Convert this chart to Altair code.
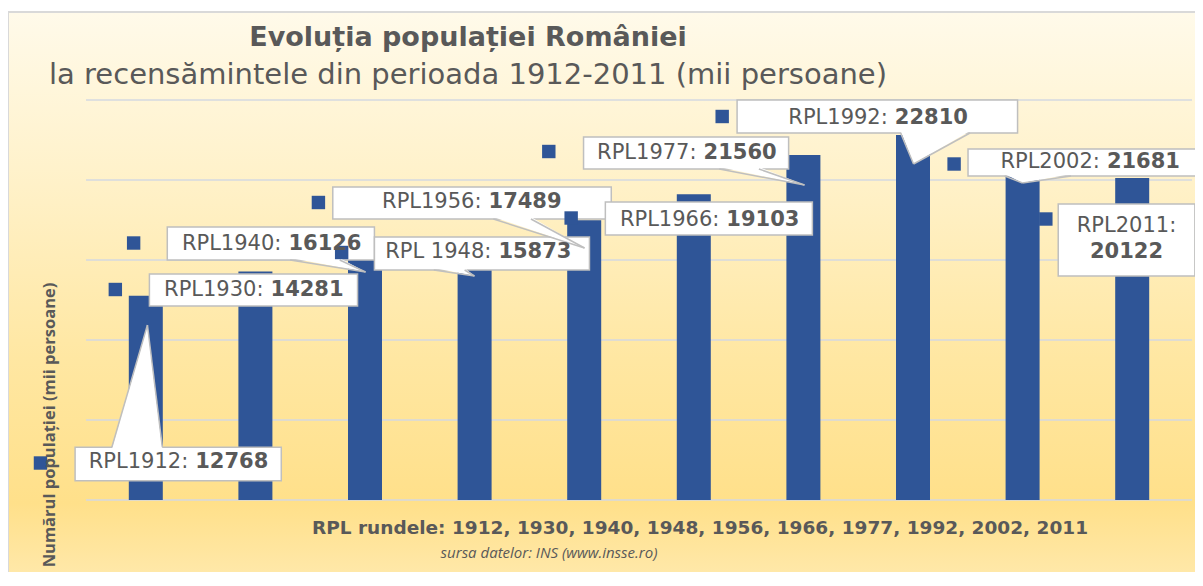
import altair as alt
import pandas as pd

# ---------------- data ----------------
years = ["1912", "1930", "1940", "1948", "1956", "1966", "1977", "1992", "2002", "2011"]
population = [12768, 14281, 16126, 15873, 17489, 19103, 21560, 22810, 21681, 20122]
label_prefix = ["RPL1912:", "RPL1930:", "RPL1940:", "RPL 1948:", "RPL1956:",
                "RPL1966:", "RPL1977:", "RPL1992:", "RPL2002:", "RPL2011:"]
grid_values = [0, 5000, 10000, 15000, 20000, 25000]

# ---------------- callout layout (x: category index units, y: thousand persons) ----------------
box_left = [-0.645, 0.033, 0.196, 2.086, 1.706, 4.193, 3.994, 5.395, 7.502, 8.325]
box_right = [1.236, 1.932, 2.086, 4.048, 4.247, 6.082, 5.865, 7.954, 9.75, 9.572]
box_top = [3300, 14125, 17062, 16437, 19562, 18625, 22687, 25000, 21937, 18500]
box_bottom = [1200, 12125, 15000, 14375, 17562, 16562, 20687, 22937, 20250, 14000]
text_x = [0.296, 0.983, 1.146, 3.062, 2.972, 5.142, 4.934, 6.679, 8.614, 8.948]
text_y = [2344, 13125, 16000, 15469, 18594, 17531, 21687, 23875, 21094, 17156]
value_y = [2344, 13125, 16000, 15469, 18594, 17531, 21687, 23875, 21094, 15469]
stacked = [0, 0, 0, 0, 0, 0, 0, 0, 0, 1]
key_x = [-0.961, -0.278, -0.111, 1.787, 1.575, 3.881, 3.677, 5.259, 7.375, 8.212]
key_y = [2312, 13156, 16062, 15469, 18594, 17625, 21781, 23969, 21000, 17562]
# tails: base edge ("top"/"bottom" of box), base left/right, apex x/y
tail_edge = ["top", None, "bottom", "bottom", "bottom", None, "bottom", "bottom", "bottom", None]
tail_a1 = [-0.310, None, 1.317, 2.628, 3.171, None, 5.232, 6.887, 7.836, None]
tail_a2 = [0.151, None, 1.769, 2.909, 3.514, None, 5.594, 7.520, 8.442, None]
tail_px = [0.015, None, 2.005, 2.999, 4.003, None, 6.010, 7.005, 7.999, None]
tail_py = [10937, None, 14250, 14000, 15750, None, 19687, 21000, 19812, None]

TEXT = "#595959"
BLUE = "#2F5597"
BORDER = "#BFBFBF"

df = pd.DataFrame({
    "year": years, "idx": list(range(len(years))), "population": population,
    "prefix": label_prefix, "value": [str(v) for v in population],
    "bx0": box_left, "bx1": box_right, "by0": box_top, "by1": box_bottom,
    "tx": text_x, "ty": text_y, "vy": value_y, "stacked": stacked,
    "kx": key_x, "ky": key_y,
})

tail_rows, side_rows = [], []
for i in range(len(years)):
    if tail_edge[i] is None:
        continue
    base = box_top[i] if tail_edge[i] == "top" else box_bottom[i]
    inset = -120 if tail_edge[i] == "top" else 120
    tail_rows.append({"id": i, "y": base + inset, "x1": tail_a1[i], "x2": tail_a2[i]})
    tail_rows.append({"id": i, "y": tail_py[i], "x1": tail_px[i], "x2": tail_px[i]})
    side_rows.append({"sx": tail_a1[i], "sy": base, "ex": tail_px[i], "ey": tail_py[i]})
    side_rows.append({"sx": tail_a2[i], "sy": base, "ex": tail_px[i], "ey": tail_py[i]})
tails = pd.DataFrame(tail_rows)
sides = pd.DataFrame(side_rows)

XS = alt.Scale(domain=[-0.5, 9.5], nice=False, zero=False)
YS = alt.Scale(domain=[0, 25000], nice=False)


def xq(f):
    return alt.X(f"{f}:Q", scale=XS, axis=None)


def yq(f):
    return alt.Y(f"{f}:Q", scale=YS, axis=None)


one = pd.DataFrame({"t": [""]})

grad = alt.Gradient(
    gradient="linear", x1=0, x2=0, y1=0, y2=1,
    stops=[
        alt.GradientStop(color="#FFFAEA", offset=0),
        alt.GradientStop(color="#FFF1C8", offset=0.3),
        alt.GradientStop(color="#FFE7A2", offset=0.6),
        alt.GradientStop(color="#FFE08A", offset=0.85),
        alt.GradientStop(color="#FFEAB0", offset=1),
    ],
)

bg = alt.Chart(one).mark_rect(fill=grad, stroke="#D9D9D9", strokeWidth=2).encode(
    x=alt.value(-78), x2=alt.value(1130), y=alt.value(-88), y2=alt.value(490)
)

grid = alt.Chart(pd.DataFrame({"g": grid_values})).mark_rule(
    color="#D5D9E0", strokeWidth=1.5
).encode(y=yq("g"), x=alt.value(0), x2=alt.value(1106))

bars = alt.Chart(df).mark_bar(size=34, color=BLUE).encode(
    x=xq("idx"), y=yq("population"),
    tooltip=["year:N", "population:Q"],
)

boxes = alt.Chart(df).mark_rect(fill="white", stroke=BORDER, strokeWidth=1.5).encode(
    x=xq("bx0"), x2="bx1:Q", y=yq("by0"), y2="by1:Q"
)

tail_fill = alt.Chart(tails).mark_area(orient="horizontal", fill="white", opacity=1).encode(
    y=yq("y"), x=xq("x1"), x2="x2:Q", detail="id:N"
)

tail_sides = alt.Chart(sides).mark_rule(color=BORDER, strokeWidth=1.5).encode(
    x=xq("sx"), y=yq("sy"), x2="ex:Q", y2="ey:Q"
)

keys = alt.Chart(df).mark_square(size=180, color=BLUE, opacity=1).encode(
    x=xq("kx"), y=yq("ky")
)

FONT = "DejaVu Sans"
LS = 21

prefix_inline = alt.Chart(df).transform_filter("datum.stacked == 0").mark_text(
    font=FONT, fontSize=LS, color=TEXT, align="right", baseline="middle", dx=10
).encode(x=xq("tx"), y=yq("ty"), text="prefix:N")

value_inline = alt.Chart(df).transform_filter("datum.stacked == 0").mark_text(
    font=FONT, fontSize=LS, fontWeight="bold", color=TEXT, align="left", baseline="middle", dx=17
).encode(x=xq("tx"), y=yq("vy"), text="value:N")

prefix_stacked = alt.Chart(df).transform_filter("datum.stacked == 1").mark_text(
    font=FONT, fontSize=LS, color=TEXT, align="center", baseline="middle"
).encode(x=xq("tx"), y=yq("ty"), text="prefix:N")

value_stacked = alt.Chart(df).transform_filter("datum.stacked == 1").mark_text(
    font=FONT, fontSize=LS, fontWeight="bold", color=TEXT, align="center", baseline="middle"
).encode(x=xq("tx"), y=yq("vy"), text="value:N")


def label(text, x, y, size, weight="normal", style="normal", font=FONT, angle=0, baseline="alphabetic"):
    return alt.Chart(pd.DataFrame({"t": [text]})).mark_text(
        font=font, fontSize=size, fontWeight=weight, fontStyle=style, color=TEXT,
        align="center", baseline=baseline, angle=angle
    ).encode(text="t:N", x=alt.value(x), y=alt.value(y))


title = label("Evoluția populației României", 382, -54, 27, weight="bold")
subtitle = label("la recensămintele din perioada 1912-2011 (mii persoane)", 382, -16, 29)
xtitle = label("RPL rundele: " + ", ".join(years), 614, 434, 18.5, weight="bold")
source = label("sursa datelor: INS (www.insse.ro)", 463, 458, 15, style="italic", font="Open Sans")
ytitle = label("Numărul populației (mii persoane)", -36, 325, 16.5, weight="bold",
               font="Open Sans", angle=270, baseline="middle")

chart = alt.layer(
    bg, grid, bars, boxes, tail_fill, tail_sides, keys,
    prefix_inline, value_inline, prefix_stacked, value_stacked,
    title, subtitle, xtitle, source, ytitle,
).properties(
    width=1106, height=400,
    autosize=alt.AutoSizeParams(type="none"),
    padding={"left": 78, "top": 92, "right": 3, "bottom": 72},
).configure_view(stroke=None)

chart.save("out.html", embed_options={"renderer": "svg", "actions": False})
